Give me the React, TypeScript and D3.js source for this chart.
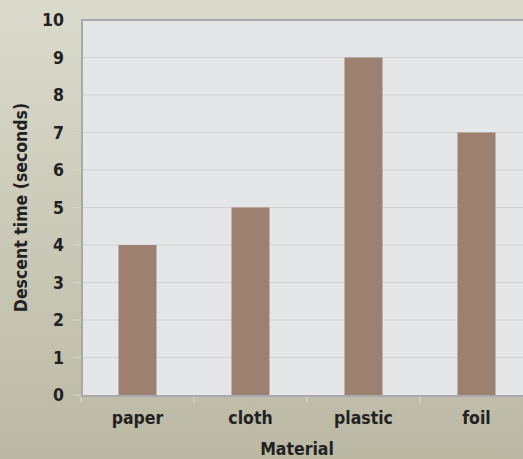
import * as d3 from "d3";

const categories = ["paper", "cloth", "plastic", "foil"];
const values = [4, 5, 9, 7];
const yTicks = [0, 1, 2, 3, 4, 5, 6, 7, 8, 9, 10];

export default function App() {
  const width = 523;
  const height = 459;
  const marginLeft = 82;
  const marginTop = 20;
  const plotBottom = 395;
  const bandW = 113;

  const x = d3
    .scaleBand()
    .domain(categories)
    .range([marginLeft, marginLeft + bandW * categories.length])
    .paddingInner(0)
    .paddingOuter(0);
  const y = d3.scaleLinear([0, 10], [plotBottom, marginTop]);
  const barW = 38;
  const font = "'DejaVu Sans Condensed', 'DejaVu Sans', sans-serif";
  const fs = 17.5;

  return (
    <svg
      width={width}
      height={height}
      style={{ position: "absolute", left: 0, top: 0 }}
      fontFamily={font}
    >
      <defs>
        <linearGradient id="bg" x1="0" y1="0" x2="0" y2="1">
          <stop offset="0" stopColor="#dbdbcd" />
          <stop offset="1" stopColor="#bbb9a4" />
        </linearGradient>
      </defs>
      <rect width={width} height={height} fill="url(#bg)" />
      {/* plot area */}
      <rect
        x={marginLeft}
        y={marginTop}
        width={width - marginLeft + 10}
        height={plotBottom - marginTop}
        fill="#e5e6e8"
      />
      {/* gridlines + y ticks */}
      {yTicks.map((t) => (
        <g key={t}>
          {t > 0 && t < 10 && (
            <line
              x1={marginLeft}
              x2={width}
              y1={y(t)}
              y2={y(t)}
              stroke="#d0d1d5"
              strokeWidth={1.2}
            />
          )}
          <line x1={73} x2={marginLeft} y1={y(t)} y2={y(t)} stroke="#d6d6d0" strokeWidth={1} />
          <text
            x={64}
            y={y(t)}
            dy="0.36em"
            textAnchor="end"
            fontSize={fs}
            fontWeight="bold"
            fill="#222"
          >
            {t}
          </text>
        </g>
      ))}
      {/* bars */}
      {categories.map((c, i) => (
        <rect
          key={c}
          x={x(c)! + x.bandwidth() / 2 - barW / 2 - 1}
          y={y(values[i])}
          width={barW}
          height={plotBottom - y(values[i])}
          fill="#9c8070"
        />
      ))}
      {/* borders */}
      <line x1={marginLeft} x2={width} y1={marginTop} y2={marginTop} stroke="#a9a9ad" strokeWidth={2} />
      <line x1={marginLeft} x2={marginLeft} y1={marginTop - 1} y2={plotBottom + 1} stroke="#a9a9ad" strokeWidth={2} />
      <line x1={marginLeft - 1} x2={width} y1={plotBottom + 1} y2={plotBottom + 1} stroke="#a9a9ad" strokeWidth={2} />
      {/* x ticks */}
      {categories.map((c) => (
        <line
          key={c}
          x1={x(c)! - 1}
          x2={x(c)! - 1}
          y1={plotBottom + 2}
          y2={plotBottom + 8}
          stroke="#dcdcd4"
          strokeWidth={1}
        />
      ))}
      {categories.map((c) => (
        <text
          key={c}
          x={x(c)! + x.bandwidth() / 2 - 1}
          y={418}
          dy="0.35em"
          textAnchor="middle"
          fontSize={fs}
          fontWeight="bold"
          fill="#222"
        >
          {c}
        </text>
      ))}
      <text
        x={297}
        y={449}
        dy="0.35em"
        textAnchor="middle"
        fontSize={fs}
        fontWeight="bold"
        fill="#222"
      >
        Material
      </text>
      <text
        transform={`translate(21,${(marginTop + plotBottom) / 2}) rotate(-90)`}
        dy="0.35em"
        textAnchor="middle"
        fontSize={fs}
        fontWeight="bold"
        fill="#222"
      >
        Descent time (seconds)
      </text>
    </svg>
  );
}
